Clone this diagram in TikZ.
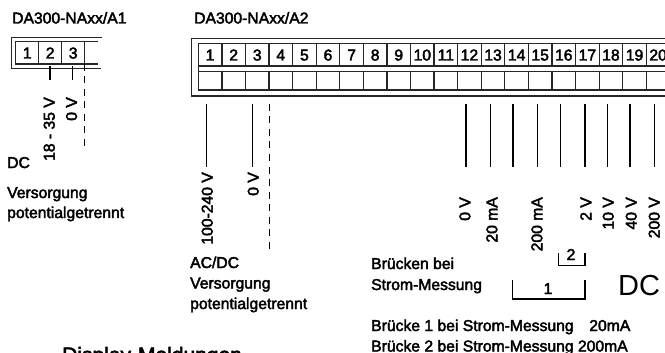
\documentclass[tikz,border=0pt]{standalone}
\usepackage{fontspec}
\newfontfamily\lab{Liberation Sans}[FakeBold=2.6]
\newfontfamily\plainlab{Liberation Sans}
\begin{document}
\begin{tikzpicture}[x=1pt,y=-1pt,
  line cap=butt,
  frame/.style={line width=1.3pt,draw=black!85},
  wire/.style={line width=1.3pt,draw=black},
  dwire/.style={line width=1.3pt,draw=black,dash pattern=on 7pt off 5.5pt},
  txt/.style={inner sep=0pt,anchor=base west,font=\lab\fontsize{15.7}{18}\selectfont},
  num/.style={inner sep=0pt,anchor=base,font=\lab\fontsize{15.7}{18}\selectfont},
  rot/.style={inner sep=0pt,anchor=mid east,xshift=2.5pt,rotate=90,font=\lab\fontsize{15.7}{18}\selectfont}]
\clip (0,0) rectangle (665,353);
\fill[white] (0,0) rectangle (665,353);
% titles
\node[txt] (t1) at (12,23.5) {DA300-NAxx/A1};
\node[txt] (t2) at (194,23.5) {DA300-NAxx/A2};
% A1 terminal block
\draw[frame] (101.5,37.7) -- (11.7,37.7) -- (11.7,68.3) -- (100.7,68.3);
\draw[frame] (98,41.7) -- (15.7,41.7) -- (15.7,64) -- (98,64);
\foreach \n/\x/\l in {a1/38.7/1,a2/61.7/2,a3/84.7/3}{
  \draw[frame] (\x,41.7) -- (\x,64);
  \node[num] (\n) at (\x-11.5,58.5) {\l};
}
% A2 terminal block
\draw[frame] (670,38.5) -- (191.5,38.5) -- (191.5,96) -- (670,96);
\draw[frame] (670,43.5) -- (198.3,43.5) -- (198.3,90) -- (670,90);
\draw[frame] (198.3,66) -- (670,66);
\draw[frame] (198.3,71.5) -- (670,71.5);
\foreach \i in {1,...,20}{
  \pgfmathsetmacro{\xa}{198.3+23.58*\i-23.58}
  \pgfmathsetmacro{\xb}{198.3+23.58*\i}
  \pgfmathsetmacro{\xc}{(\xa+\xb)/2}
  \draw[frame] (\xb,43.5) -- (\xb,66);
  \draw[frame] (\xb,71.5) -- (\xb,90);
  \node[num] (n\i) at (\xc,60.5) {\i};
}
% A1 wires
\coordinate (p1) at (50,66);\coordinate (q1) at (50,80);
\coordinate (p2) at (72.3,66);\coordinate (q2) at (72.3,80);
\coordinate (p3) at (84.2,64);\coordinate (q3) at (84.2,149);
\draw[wire] (p1) -- (q1);
\draw[wire] (p2) -- (q2);
\draw[dwire] (p3) -- (q3);
\node[rot] (l1) at (50,97) {18 - 35 V};
\node[rot] (l2) at (72.3,97) {0 V};
% A2 supply wires
\coordinate (p4) at (206.7,104);\coordinate (q4) at (206.7,167);
\coordinate (p5) at (252.3,104);\coordinate (q5) at (252.3,167);
\coordinate (p6) at (269.3,104);\coordinate (q6) at (269.3,249);
\draw[wire] (p4) -- (q4);
\draw[wire] (p5) -- (q5);
\draw[dwire] (p6) -- (q6);
\node[rot] (l3) at (208,172) {100-240 V};
\node[rot] (l4) at (254,172) {0 V};
% measuring wires
\foreach \x [count=\k] in {466,490.3,513,537.7,560.3,585,607.3,630,654.7}{
  \coordinate (mp\k) at (\x,104);
  \coordinate (mq\k) at (\x,167);
  \draw[wire] (mp\k) -- (mq\k);
}
\node[rot] (m1) at (465.7,197) {0 V};
\node[rot] (m2) at (492.7,197) {20 mA};
\node[rot] (m3) at (537.7,197) {200 mA};
\node[rot] (m4) at (586.7,197) {2 V};
\node[rot] (m5) at (609,197) {10 V};
\node[rot] (m6) at (632,197) {40 V};
\node[rot] (m7) at (655,197) {200 V};
% left captions
\node[txt] (c1) at (7,168) {DC};
\node[txt] (c2) at (7,198) {Versorgung};
\node[txt] (c3) at (7,218) {potentialgetrennt};
\node[txt] (c4) at (190,268) {AC/DC};
\node[txt] (c5) at (190,288.5) {Versorgung};
\node[txt] (c6) at (190,309) {potentialgetrennt};
% bridges
\node[txt] (b1) at (371,269) {Brücken bei};
\node[txt] (b2) at (371,290) {Strom-Messung};
\draw[wire] (558.3,253) -- (558.3,265.7) -- (585,265.7) -- (585,253);
\draw[wire] (512.7,280) -- (512.7,299) -- (585,299) -- (585,280);
\node[num] (b3) at (571,260) {2};
\node[num] (b4) at (548,294) {1};
\node[inner sep=0pt,anchor=base west,font=\plainlab\fontsize{29}{32}\selectfont] (dc) at (618,295) {DC};
\node[txt] (s1) at (371,331) {Brücke 1 bei Strom-Messung\hspace{1em}20mA};
\node[txt] (s2) at (371,351.5) {Brücke 2 bei Strom-Messung 200mA};
\node[inner sep=0pt,anchor=base west,font=\lab\fontsize{21}{24}\selectfont] (dm) at (62,362) {Display-Meldungen};
\end{tikzpicture}
\end{document}
